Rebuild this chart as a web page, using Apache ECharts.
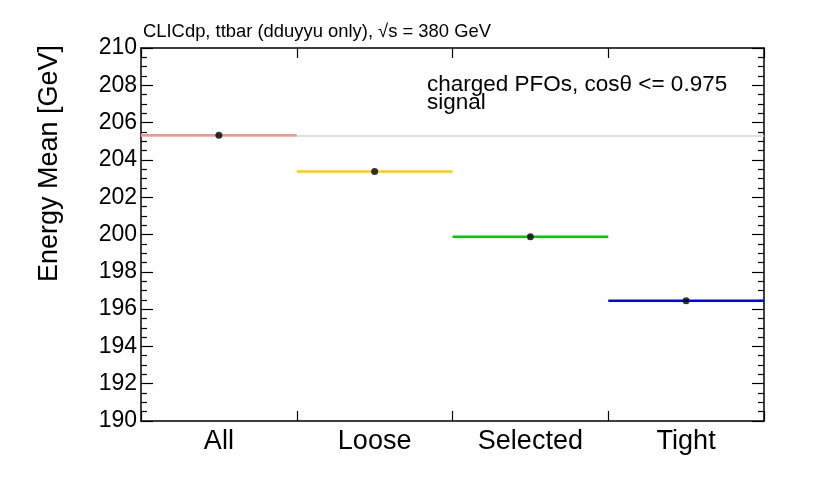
<!DOCTYPE html>
<html>
<head>
<meta charset="utf-8">
<script src="https://cdn.jsdelivr.net/npm/echarts@6/dist/echarts.min.js"></script>
<style>
  html, body { margin: 0; padding: 0; background: #fff; }
  #chart { width: 830px; height: 485px; }
</style>
</head>
<body>
<div id="chart"></div>
<script>
// 各选择档位的能量均值
const categories = ['All', 'Loose', 'Selected', 'Tight'];
const energyMean = [205.32, 203.38, 199.88, 196.45];
const lineColors = ['#f29595', '#ffcc00', '#00cc00', '#0000ff'];
const yTicks = { min: 190, max: 210, step: 2 };

const chart = echarts.init(document.getElementById('chart'));
const font = 'Liberation Sans, Arial, sans-serif';

const yAxisBase = {
  type: 'value',
  min: yTicks.min,
  max: yTicks.max,
  interval: yTicks.step,
  axisLine: { show: true, lineStyle: { color: '#000', width: 1.5 } },
  axisTick: { show: true, inside: true, length: 12, lineStyle: { color: '#000', width: 1.2 } },
  minorTick: { show: true, splitNumber: 4, length: 6, lineStyle: { color: '#000', width: 1.2 } },
  splitLine: { show: false },
};

const xAxisBase = {
  type: 'category',
  data: categories,
  boundaryGap: true,
  axisLine: { show: true, lineStyle: { color: '#000', width: 1.5 } },
  axisTick: { show: true, inside: true, length: 10, lineStyle: { color: '#000', width: 1.2 } },
  splitLine: { show: false },
};

chart.setOption({
  animation: false,
  grid: { left: 141, right: 66, top: 48, bottom: 64 },
  title: [
    {
      text: 'CLICdp, ttbar (dduyyu only), √s = 380 GeV',
      left: 138, top: 18,
      textStyle: { fontFamily: font, fontSize: 18.4, fontWeight: 'normal', color: '#000' },
    },
    {
      text: 'charged PFOs, cosθ <= 0.975',
      left: 422, top: 68,
      textStyle: { fontFamily: font, fontSize: 22.5, fontWeight: 'normal', color: '#000' },
    },
    {
      text: 'signal',
      left: 422, top: 86,
      textStyle: { fontFamily: font, fontSize: 22.5, fontWeight: 'normal', color: '#000' },
    },
  ],
  xAxis: [
    Object.assign({}, xAxisBase, {
      position: 'bottom',
      axisLabel: { fontFamily: font, fontSize: 27, color: '#000', margin: 7 },
    }),
    Object.assign({}, xAxisBase, {
      position: 'top',
      axisLabel: { show: false },
    }),
  ],
  yAxis: [
    Object.assign({}, yAxisBase, {
      position: 'left',
      name: 'Energy Mean [GeV]',
      nameLocation: 'end',
      nameRotate: 90,
      nameGap: 3,
      nameTextStyle: { fontFamily: font, fontSize: 27, color: '#000', align: 'right', verticalAlign: 'bottom', padding: [0, 0, 78, 0] },
      axisLabel: { fontFamily: font, fontSize: 23, color: '#000', margin: 4 },
    }),
    Object.assign({}, yAxisBase, {
      position: 'right',
      axisLabel: { show: false },
    }),
  ],
  series: [
    {
      type: 'custom',
      xAxisIndex: 0,
      yAxisIndex: 0,
      data: energyMean.map((v, i) => [i, v]),
      markLine: {
        silent: true,
        symbol: 'none',
        label: { show: false },
        lineStyle: { color: '#d4d4d4', width: 1.5, type: 'solid' },
        data: [{ yAxis: energyMean[0] }],
        z: 1,
      },
      renderItem: (params, api) => {
        const p = api.coord([api.value(0), api.value(1)]);
        const w = api.size([1, 0])[0];
        return {
          type: 'line',
          z2: 5,
          shape: { x1: p[0] - w / 2, y1: p[1], x2: p[0] + w / 2, y2: p[1] },
          style: { stroke: lineColors[params.dataIndex], lineWidth: 2.5 },
        };
      },
      z: 3,
    },
    {
      type: 'scatter',
      xAxisIndex: 0,
      yAxisIndex: 0,
      data: energyMean.map((v, i) => [i, v]),
      symbol: 'circle',
      symbolSize: 7,
      itemStyle: { color: '#000' },
      z: 4,
    },
  ],
});
</script>
</body>
</html>
